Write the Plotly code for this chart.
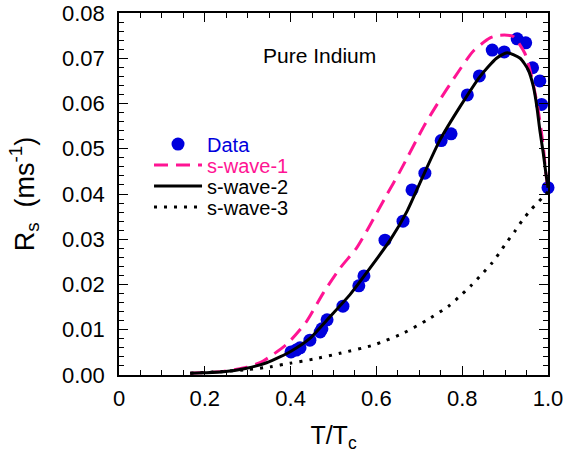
import plotly.graph_objects as go

# Data points (T/Tc, Rs)
data_x = [0.401, 0.413, 0.422, 0.445, 0.469, 0.473, 0.485, 0.522, 0.559, 0.571,
          0.620, 0.662, 0.683, 0.713, 0.751, 0.774, 0.812, 0.840, 0.870, 0.898,
          0.928, 0.948, 0.964, 0.981, 0.985, 1.000]
data_y = [0.0051, 0.0055, 0.0060, 0.0077, 0.0095, 0.0102, 0.0122, 0.0152, 0.0197, 0.0219,
          0.0298, 0.0340, 0.0409, 0.0446, 0.0518, 0.0533, 0.0619, 0.0661, 0.0718, 0.0714,
          0.0743, 0.0734, 0.0679, 0.0650, 0.0598, 0.0414]

# s-wave-1 (pink dashed)
s1_x = [0.166, 0.243, 0.298, 0.336, 0.391, 0.437, 0.476, 0.515, 0.554, 0.585,
        0.624, 0.655, 0.712, 0.748, 0.781, 0.826, 0.865, 0.888, 0.919, 0.946,
        0.962, 0.977, 0.989, 0.995, 1.0]
s1_y = [0.0004, 0.0008, 0.0017, 0.0031, 0.0068, 0.0118, 0.0181, 0.0236, 0.0281, 0.0331,
        0.0398, 0.0450, 0.0552, 0.0608, 0.0656, 0.0716, 0.0745, 0.0751, 0.0748, 0.0711,
        0.0659, 0.0586, 0.0505, 0.0446, 0.0410]

# s-wave-2 (black solid)
s2_x = [0.166, 0.20, 0.243, 0.298, 0.344, 0.375, 0.40, 0.445, 0.492, 0.538,
        0.585, 0.632, 0.671, 0.705, 0.748, 0.795, 0.841, 0.880, 0.905, 0.935,
        0.954, 0.966, 0.974, 0.981, 0.989, 0.995, 1.0]
s2_y = [0.0004, 0.0005, 0.0007, 0.0015, 0.0027, 0.0040, 0.0052, 0.0081, 0.0129, 0.0177,
        0.0236, 0.0298, 0.0361, 0.0432, 0.0519, 0.0593, 0.0659, 0.0700, 0.0712, 0.0700,
        0.0674, 0.0637, 0.0593, 0.0541, 0.0490, 0.0446, 0.0414]

# s-wave-3 (black dotted)
s3_x = [0.166, 0.25, 0.30, 0.352, 0.399, 0.453, 0.515, 0.593, 0.664, 0.717,
        0.768, 0.793, 0.820, 0.845, 0.869, 0.886, 0.905, 0.923, 0.941, 0.962,
        0.988, 1.0]
s3_y = [0.0004, 0.0008, 0.0012, 0.0018, 0.0026, 0.0035, 0.0048, 0.0066, 0.0093, 0.0121,
        0.0152, 0.0173, 0.0197, 0.0222, 0.0247, 0.0269, 0.0295, 0.0318, 0.0343, 0.0367,
        0.0393, 0.0405]

x_tickvals = [0, 0.2, 0.4, 0.6, 0.8, 1.0]
x_ticktext = ["0", "0.2", "0.4", "0.6", "0.8", "1.0"]

BLUE = "#0000DD"
PINK = "#FF1493"
FONT = "Liberation Sans, Arial, sans-serif"

fig = go.Figure()
fig.add_trace(go.Scatter(x=data_x, y=data_y, mode="markers", legend="legend",
                         name=f"<span style='color:{BLUE}'>Data</span>",
                         marker=dict(color=BLUE, size=13), cliponaxis=False))
fig.add_trace(go.Scatter(x=s1_x, y=s1_y, mode="lines", legend="legend2",
                         name=f"<span style='color:{PINK}'>s-wave-1</span>",
                         line=dict(color=PINK, width=3, dash="14px,8px", shape="spline", smoothing=0.6)))
fig.add_trace(go.Scatter(x=s2_x, y=s2_y, mode="lines", name="s-wave-2", legend="legend3",
                         line=dict(color="black", width=3, shape="spline", smoothing=0.6)))
fig.add_trace(go.Scatter(x=s3_x, y=s3_y, mode="lines", name="s-wave-3", legend="legend4",
                         line=dict(color="black", width=3, dash="3px,7px", shape="spline", smoothing=0.6)))

axis_common = dict(showline=True, linecolor="black", linewidth=1.6, mirror="ticks",
                   ticks="inside", ticklen=9, tickwidth=1.3, tickcolor="black",
                   showgrid=False, zeroline=False, automargin=False,
                   ticklabeloverflow="allow",
                   tickfont=dict(family=FONT, size=22, color="black"))

fig.update_xaxes(range=[0, 1.0], tickvals=x_tickvals, ticktext=x_ticktext,
                 minor=dict(ticks="inside", ticklen=5, dtick=0.05, tick0=0, tickcolor="black", tickwidth=1.2, showgrid=False),
                 title=dict(text="T/T<sub>c</sub>", font=dict(family=FONT, size=25, color="black"), standoff=16),
                 ticklabelstandoff=3,
                 **axis_common)
fig.update_yaxes(range=[0, 0.08], dtick=0.01, tick0=0, tickformat=".2f",
                 minor=dict(ticks="inside", ticklen=5, dtick=0.002, tick0=0, tickcolor="black", tickwidth=1.2, showgrid=False),
                 title=dict(text="R<sub>s</sub>  (ms<sup>-1</sup>)", font=dict(family=FONT, size=27, color="black"), standoff=20),
                 ticklabelstandoff=8,
                 **axis_common)

fig.add_annotation(x=0.468, y=0.0707, xref="x", yref="y", text="Pure Indium",
                   showarrow=False, font=dict(family=FONT, size=21, color="black"))

leg_common = dict(x=0.07, xanchor="left", yanchor="middle",
                  bgcolor="rgba(0,0,0,0)", borderwidth=0,
                  font=dict(family=FONT, size=20, color="black"), itemwidth=48)

fig.update_layout(
    width=585, height=466,
    margin=dict(l=119, r=37, t=13, b=91, autoexpand=False),
    paper_bgcolor="white", plot_bgcolor="white",
    showlegend=True,
    legend=dict(y=0.638, **leg_common),
    legend2=dict(y=0.580, **leg_common),
    legend3=dict(y=0.522, **leg_common),
    legend4=dict(y=0.464, **leg_common),
)

# remove the default 8px page margin so the figure fills the window
fig.write_html("out.html",
               config={"displayModeBar": False},
               post_script="document.body.style.margin='0px';document.body.style.overflow='hidden';")
